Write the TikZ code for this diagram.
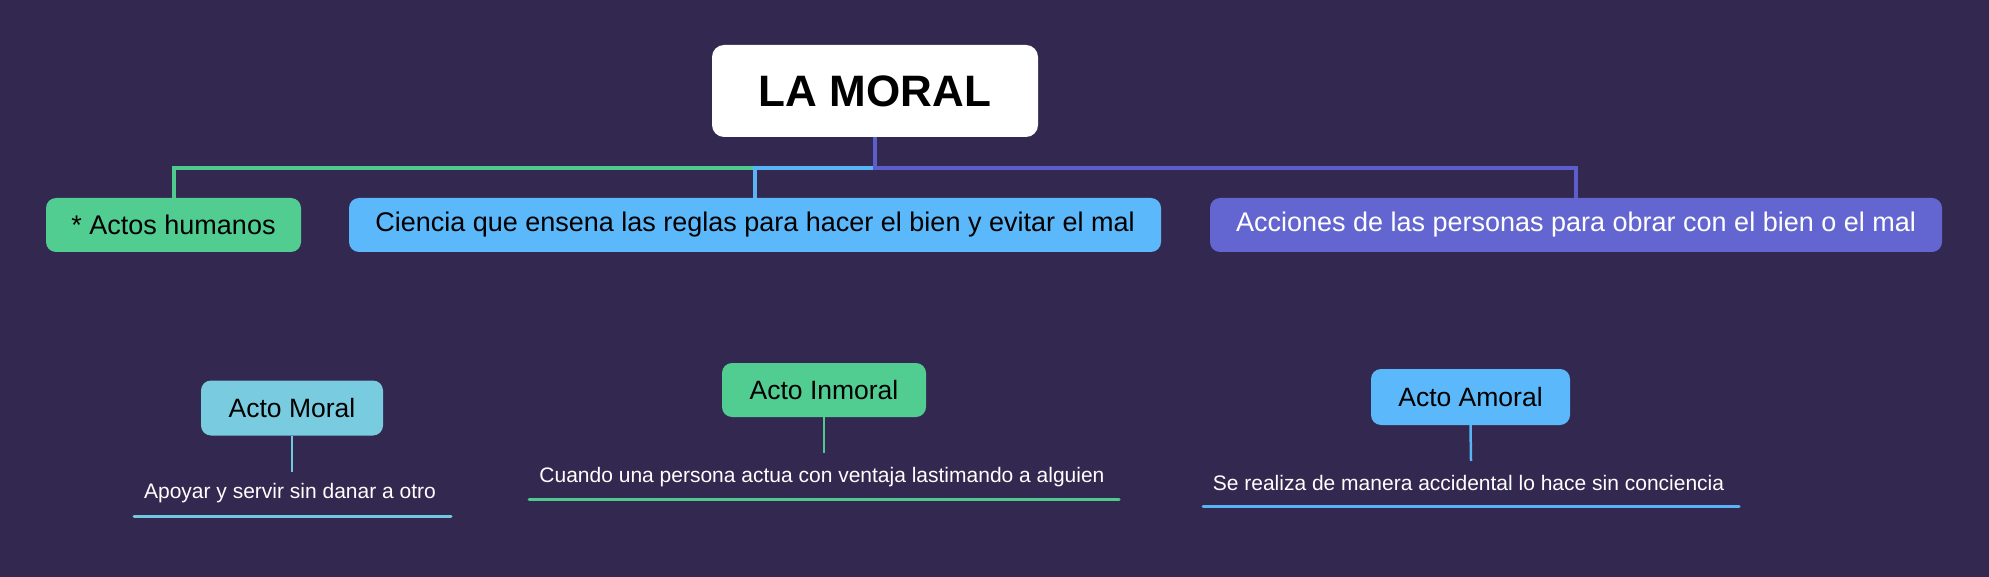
\documentclass[tikz,border=0pt]{standalone}
\usepackage{fontspec}
\setmainfont{Liberation Sans}
\definecolor{bg}{HTML}{33284F}
\definecolor{cgreen}{HTML}{52CD92}
\definecolor{cblue}{HTML}{5BB8FA}
\definecolor{cpurple}{HTML}{6366D0}
\definecolor{clight}{HTML}{79CCE0}
\definecolor{lgreen}{HTML}{4FC98E}
\definecolor{lblue}{HTML}{58B4F5}
\definecolor{lpurple}{HTML}{5C5FCB}
\definecolor{llight}{HTML}{74C8DD}
\begin{document}
\begin{tikzpicture}[x=1pt,y=-1pt,
  box/.style={rounded corners=10pt, inner sep=0pt, align=center},
  lvone/.style={box, minimum height=54pt, font=\fontsize{27}{31}\selectfont, text=black},
  lvtwo/.style={box, minimum height=55pt, font=\fontsize{26.5}{30}\selectfont, text=black},
  detail/.style={inner sep=0pt, font=\fontsize{21}{25}\selectfont, text=white},
  branch/.style={line width=4pt},
  stem/.style={line width=2.5pt},
  uline/.style={line width=3pt, line cap=round}]
\useasboundingbox[fill=bg] (0,0) rectangle (1989,577);

% root
\node[box, rounded corners=12pt, fill=white, minimum width=326pt, minimum height=92pt,
      font=\fontsize{44}{50}\selectfont\bfseries, text=black] (top) at (875,91) {LA MORAL};

% level one
\node[lvone, fill=cgreen, minimum width=255pt] (c1) at (173.5,225) {* Actos humanos};
\node[lvone, fill=cblue, minimum width=812pt] (c2) at (755,225) {Ciencia que ensena las reglas para hacer el bien y evitar el mal};
\node[lvone, fill=cpurple, minimum width=732pt, text=white] (c3) at (1576,225) {Acciones de las personas para obrar con el bien o el mal};

\coordinate (bus) at (874,168);
\draw[branch, lgreen] (top.south) -- (top.south |- bus) -| (c1.north);
\draw[branch, lblue] (top.south) -- (top.south |- bus) -| (c2.north);
\draw[branch, lpurple] (top.south) -- (top.south |- bus) -| (c3.north);

% level two
\node[lvtwo, fill=clight, minimum width=182pt] (am) at (292,408) {Acto Moral};
\node[lvtwo, fill=cgreen, minimum width=204pt, minimum height=54pt] (ai) at (824,390) {Acto Inmoral};
\node[lvtwo, fill=cblue, minimum width=199pt, minimum height=56pt] (aa) at (1470.5,397) {Acto Amoral};

\node[detail] (t1) at (290,493) {Apoyar y servir sin danar a otro};
\node[detail] (t2) at (822,477) {Cuando una persona actua con ventaja lastimando a alguien};
\node[detail] (t3) at (1468.5,483) {Se realiza de manera accidental lo hace sin conciencia};

\coordinate (e1) at (292,472);
\coordinate (e2) at (824,453);
\coordinate (e3) at (1471,461);
\draw[stem, llight] (am.south) -- (e1);
\draw[stem, lgreen] (ai.south) -- (e2);
\draw[stem, lblue] (aa.south) -- (e3);

\coordinate (u1a) at (134,516); \coordinate (u1b) at (451,516);
\coordinate (u2a) at (529,499); \coordinate (u2b) at (1119,499);
\coordinate (u3a) at (1203,506); \coordinate (u3b) at (1739,506);
\draw[uline, llight] (u1a) -- (u1b);
\draw[uline, lgreen] (u2a) -- (u2b);
\draw[uline, lblue] (u3a) -- (u3b);
\end{tikzpicture}
\end{document}
